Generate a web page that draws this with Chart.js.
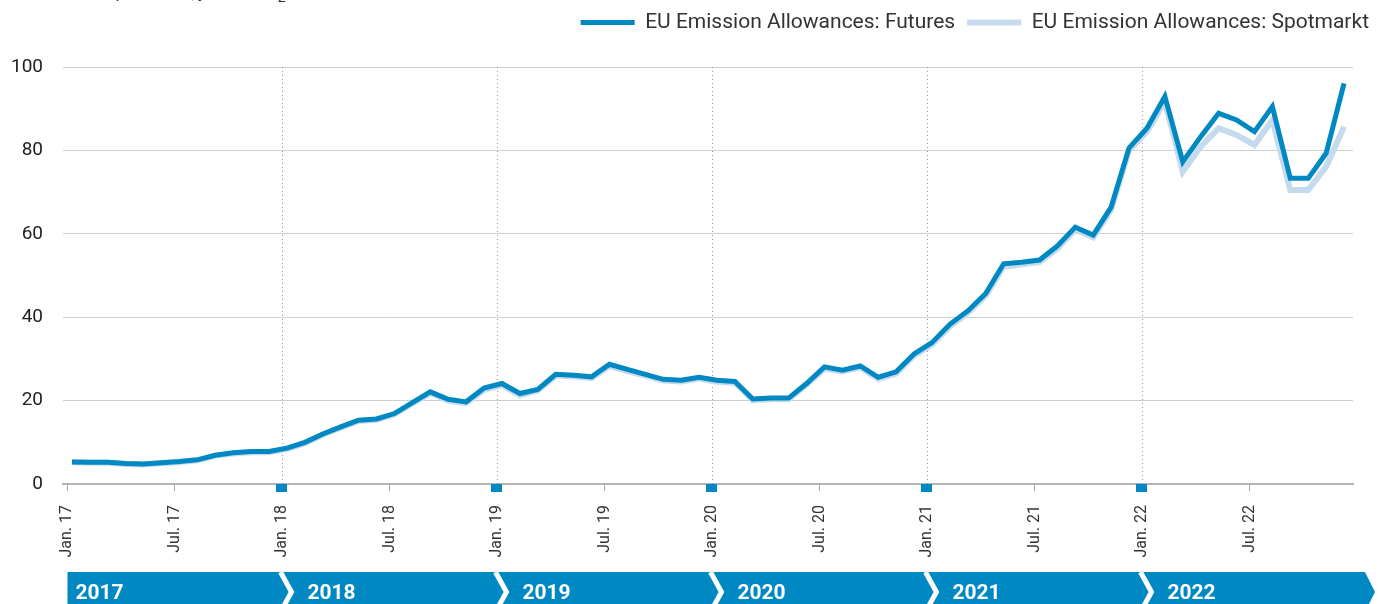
<!DOCTYPE html>
<html>
<head>
<meta charset="utf-8">
<script src="https://cdn.jsdelivr.net/npm/chart.js@4.4.0/dist/chart.umd.min.js"></script>
<style>
  html, body { margin: 0; padding: 0; background: #fff; overflow: hidden; }
  #wrap { position: relative; width: 1381px; height: 604px; }
  #titel { position: absolute; left: 8px; top: -18px; font: 17px Roboto, sans-serif; color: #333; white-space: nowrap; }
</style>
</head>
<body>
<div id="wrap">
  <canvas id="myChart" width="1381" height="604"></canvas>
  <div id="titel">Preise in Euro pro Tonne; jeweils CO<sub>2</sub></div>
</div>
<script>
// Achsenbeschriftungen
let tickLabels = ['Jan. 17', 'Jul. 17', 'Jan. 18', 'Jul. 18', 'Jan. 19', 'Jul. 19',
                  'Jan. 20', 'Jul. 20', 'Jan. 21', 'Jul. 21', 'Jan. 22', 'Jul. 22']
let jahre = ['2017', '2018', '2019', '2020', '2021', '2022']

// Monatswerte Jan. 2017 - Dez. 2022, Euro pro Tonne
let futures = [
  5.3, 5.2, 5.2, 4.9, 4.8, 5.1, 5.4, 5.8, 6.9, 7.5, 7.8, 7.8,
  8.6, 10.0, 12.0, 13.7, 15.3, 15.6, 16.9, 19.5, 22.1, 20.3, 19.7, 23.0,
  24.1, 21.7, 22.7, 26.3, 26.1, 25.7, 28.7, 27.5, 26.3, 25.1, 24.9, 25.6,
  24.9, 24.6, 20.4, 20.6, 20.6, 24.1, 28.1, 27.3, 28.3, 25.6, 26.9, 31.2,
  33.9, 38.3, 41.5, 45.7, 52.8, 53.2, 53.7, 57.1, 61.6, 59.7, 66.4, 80.6,
  85.3, 92.9, 77.3, 83.3, 88.9, 87.3, 84.5, 90.5, 73.3, 73.3, 79.3, 96.1
]
let spotmarkt = [
  5.2, 5.1, 5.1, 4.8, 4.7, 5.0, 5.3, 5.7, 6.8, 7.3, 7.6, 7.6,
  8.4, 9.8, 11.8, 13.5, 15.1, 15.4, 16.7, 19.3, 21.8, 20.0, 19.4, 22.6,
  23.7, 21.3, 22.4, 26.0, 25.8, 25.4, 28.3, 27.1, 26.0, 24.8, 24.6, 25.3,
  24.5, 24.3, 20.1, 20.3, 20.3, 23.8, 27.7, 27.0, 28.0, 25.2, 26.5, 30.8,
  33.4, 37.8, 41.0, 45.2, 52.1, 52.7, 53.2, 56.5, 61.0, 59.1, 65.8, 80.0,
  84.5, 91.7, 74.9, 80.9, 85.3, 83.7, 81.3, 87.3, 70.5, 70.5, 76.1, 85.7
]

const blau = 'rgb(0, 136, 194)'
const hellblau = 'rgb(197, 219, 237)'
const schrift = 'Roboto, "Liberation Sans", sans-serif'

// Monatsanfang liegt etwas vor dem Datenpunkt
function tickWert(n) { return n * 6 - 0.25 }

// gepunktete Jahreslinien, Markierungen und Jahresband
const jahresband = {
  id: 'jahresband',
  afterInit(chart) {
    let legende = chart.legend
    let fit = legende.fit.bind(legende)
    legende.fit = function () { fit(); this.height = 67 }
  },
  beforeDatasetsDraw(chart) {
    let ctx = chart.ctx
    let x = chart.scales.x
    let y = chart.scales.y
    ctx.save()
    ctx.strokeStyle = '#9a9a9a'
    ctx.lineWidth = 1
    ctx.setLineDash([1, 3])
    jahre.forEach((j, n) => {
      if (n == 0) return
      let px = Math.round(x.getPixelForValue(tickWert(n * 2))) + 0.5
      ctx.beginPath()
      ctx.moveTo(px, y.top)
      ctx.lineTo(px, y.bottom)
      ctx.stroke()
    })
    ctx.restore()
  },
  afterDraw(chart) {
    let ctx = chart.ctx
    let x = chart.scales.x
    let y = chart.scales.y
    let unten = y.bottom
    let bandOben = unten + 88
    let bandH = 40
    let start = x.getPixelForValue(tickWert(0))
    let ende = x.right + 12

    ctx.save()
    ctx.fillStyle = blau
    jahre.forEach((j, n) => {
      if (n == 0) return
      let px = Math.round(x.getPixelForValue(tickWert(n * 2)))
      ctx.fillRect(px - 6, unten, 11, 8)
    })

    ctx.beginPath()
    ctx.moveTo(start, bandOben)
    ctx.lineTo(ende, bandOben)
    ctx.lineTo(ende + 10, bandOben + bandH / 2)
    ctx.lineTo(ende, bandOben + bandH)
    ctx.lineTo(start, bandOben + bandH)
    ctx.closePath()
    ctx.fill()

    ctx.strokeStyle = '#fff'
    ctx.lineWidth = 5
    ctx.font = 'bold 21px ' + schrift
    ctx.textBaseline = 'alphabetic'
    jahre.forEach((j, n) => {
      let px = x.getPixelForValue(tickWert(n * 2))
      if (n > 0) {
        ctx.beginPath()
        ctx.moveTo(px - 2, bandOben)
        ctx.lineTo(px + 9, bandOben + bandH / 2)
        ctx.lineTo(px - 2, bandOben + bandH)
        ctx.stroke()
      }
      ctx.fillStyle = '#fff'
      ctx.fillText(j, n == 0 ? start + 8 : px + 25, bandOben + 27)
    })
    ctx.restore()
  }
}

let ctx = document.getElementById('myChart').getContext('2d')
let chart = new Chart(ctx, {
  type: 'line',
  data: {
    datasets: [{
      label: 'EU Emission Allowances: Futures',
      data: futures.map((v, i) => ({ x: i, y: v })),
      borderColor: blau,
      backgroundColor: blau,
      borderWidth: 5,
      fill: false
    }, {
      label: 'EU Emission Allowances: Spotmarkt',
      data: spotmarkt.map((v, i) => ({ x: i, y: v })),
      borderColor: hellblau,
      backgroundColor: hellblau,
      borderWidth: 6,
      fill: false
    }]
  },
  options: {
    responsive: false,
    animation: false,
    layout: { padding: { top: 0, left: 0, right: 0, bottom: 0 } },
    elements: { point: { radius: 0 }, line: { tension: 0 } },
    plugins: {
      legend: {
        position: 'top',
        align: 'end',
        labels: {
          usePointStyle: true,
          pointStyle: 'line',
          pointStyleWidth: 54,
          padding: 12,
          color: '#333',
          font: { family: schrift, size: 21 }
        }
      },
      tooltip: { enabled: false }
    },
    scales: {
      x: {
        type: 'linear',
        min: -0.5,
        max: 71.5,
        afterFit: s => { s.height = 120 },
        afterBuildTicks: s => { s.ticks = tickLabels.map((t, n) => ({ value: tickWert(n) })) },
        ticks: {
          callback: (v, i) => tickLabels[i],
          minRotation: 90,
          maxRotation: 90,
          padding: 14,
          color: '#333',
          font: { family: schrift, size: 16 }
        },
        grid: { drawOnChartArea: false, tickLength: 7, tickColor: '#aaa', tickWidth: 1 },
        border: { color: '#b4b4b4', width: 2 }
      },
      y: {
        min: 0,
        max: 100,
        afterFit: s => { s.width = 63 },
        ticks: { stepSize: 20, padding: 20, color: '#222', font: { family: schrift, size: 19 } },
        grid: { color: '#cfcfcf', drawTicks: false },
        border: { display: false }
      },
      rechts: {
        position: 'right',
        afterFit: s => { s.width = 28 },
        ticks: { display: false },
        grid: { display: false },
        border: { display: false }
      }
    }
  },
  plugins: [jahresband]
})
</script>
</body>
</html>
